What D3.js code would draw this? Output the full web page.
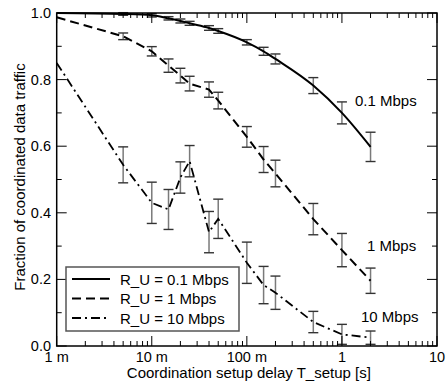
<!DOCTYPE html>
<html><head><meta charset="utf-8">
<script src="https://cdn.jsdelivr.net/npm/d3@7"></script>
<style>html,body{margin:0;padding:0;background:#fff;}svg{display:block;font-family:"Liberation Sans",Arial,Helvetica,sans-serif;}</style>
</head><body>
<svg id="c" width="446" height="383"></svg>
<script>
// Data
const tSetup = [0.001, 0.005, 0.01, 0.015, 0.02, 0.025, 0.04, 0.05, 0.1, 0.15, 0.2, 0.5, 1, 2];
const frac01 = [1.0, 0.997, 0.993, 0.984, 0.976, 0.969, 0.955, 0.946, 0.912, 0.885, 0.862, 0.782, 0.700, 0.598];
const err01  = [0, 0.004, 0.005, 0.005, 0.006, 0.006, 0.007, 0.007, 0.008, 0.012, 0.015, 0.024, 0.033, 0.044];
const frac1  = [0.987, 0.930, 0.885, 0.842, 0.812, 0.788, 0.770, 0.737, 0.628, 0.560, 0.518, 0.381, 0.288, 0.196];
const err1   = [0, 0.010, 0.014, 0.020, 0.022, 0.022, 0.023, 0.025, 0.031, 0.039, 0.040, 0.047, 0.050, 0.038];
const frac10 = [0.85, 0.544, 0.430, 0.410, 0.506, 0.555, 0.342, 0.382, 0.250, 0.183, 0.160, 0.072, 0.035, 0.025];
const err10  = [0, 0.054, 0.062, 0.060, 0.047, 0.047, 0.062, 0.059, 0.062, 0.056, 0.050, 0.032, 0.030, 0.020];
const seriesNames = ["R_U = 0.1 Mbps", "R_U = 1 Mbps", "R_U = 10 Mbps"];
const annotations = ["0.1 Mbps", "1 Mbps", "10 Mbps"];
const xTickValues = [0.001, 0.01, 0.1, 1, 10];
const xTickLabels = ["1 m", "10 m", "100 m", "1", "10"];
const yTickValues = [0, 0.2, 0.4, 0.6, 0.8, 1.0];

const svg = d3.select("#c");
const L = 56.7, R = 437, T = 13, B = 346;
const x = d3.scaleLog().domain([0.001, 10]).range([L, R]);
const y = d3.scaleLinear().domain([0, 1]).range([B, T]);

const series = [
  {v: frac01, e: err01, dash: null, w: 2, curve: d3.curveMonotoneX},
  {v: frac1, e: err1, dash: "9,5", w: 2, curve: d3.curveLinear},
  {v: frac10, e: err10, dash: "9,4,2,4", w: 1.8, curve: d3.curveLinear}
];

// error bars
series.forEach(s => {
  const g = svg.append("g");
  tSetup.forEach((t, i) => {
    if (!s.e[i]) return;
    const cx = x(t), y1 = y(Math.max(0, s.v[i] - s.e[i])), y2 = y(s.v[i] + s.e[i]);
    g.append("line").attr("x1", cx).attr("x2", cx).attr("y1", y1).attr("y2", y2)
      .attr("stroke", "#7a7a7a").attr("stroke-width", 1.5);
    [y1, y2].forEach(yy => {
      if (yy >= B) return;
      g.append("line").attr("x1", cx - 5).attr("x2", cx + 5).attr("y1", yy).attr("y2", yy)
        .attr("stroke", "#333").attr("stroke-width", 1.4);
    });
  });
});

// lines
series.forEach(s => {
  const line = d3.line().x((d, i) => x(tSetup[i])).y(d => y(d)).curve(s.curve);
  svg.append("path").datum(s.v).attr("d", line).attr("fill", "none")
    .attr("stroke", "#000").attr("stroke-width", s.w)
    .attr("stroke-dasharray", s.dash);
});

// frame
svg.append("rect").attr("x", L).attr("y", T).attr("width", R - L).attr("height", B - T)
  .attr("fill", "none").attr("stroke", "#000").attr("stroke-width", 1.5);

// ticks (inward)
const tickG = svg.append("g").attr("stroke", "#000").attr("stroke-width", 1);
const minorX = [];
for (let d = 0.001; d < 10; d *= 10) for (let k = 2; k <= 9; k++) minorX.push(d * k);
xTickValues.forEach(v => {
  tickG.append("line").attr("x1", x(v)).attr("x2", x(v)).attr("y1", B).attr("y2", B - 10);
  tickG.append("line").attr("x1", x(v)).attr("x2", x(v)).attr("y1", T).attr("y2", T + 10);
});
minorX.forEach(v => {
  tickG.append("line").attr("x1", x(v)).attr("x2", x(v)).attr("y1", B).attr("y2", B - 5);
  tickG.append("line").attr("x1", x(v)).attr("x2", x(v)).attr("y1", T).attr("y2", T + 5);
});
const yMinor = d3.range(0.1, 1.0, 0.2);
yTickValues.forEach(v => {
  tickG.append("line").attr("x1", L).attr("x2", L + 10).attr("y1", y(v)).attr("y2", y(v));
  tickG.append("line").attr("x1", R).attr("x2", R - 10).attr("y1", y(v)).attr("y2", y(v));
});
yMinor.forEach(v => {
  tickG.append("line").attr("x1", L).attr("x2", L + 5).attr("y1", y(v)).attr("y2", y(v));
  tickG.append("line").attr("x1", R).attr("x2", R - 5).attr("y1", y(v)).attr("y2", y(v));
});

// tick labels
xTickValues.forEach((v, i) => {
  svg.append("text").attr("x", x(v)).attr("y", 362).attr("text-anchor", "middle")
    .attr("font-size", 14.5).text(xTickLabels[i]);
});
yTickValues.forEach(v => {
  svg.append("text").attr("x", 51).attr("y", y(v) + 5).attr("text-anchor", "end")
    .attr("font-size", 14.5).text(d3.format(".1f")(v));
});

// axis titles
svg.append("text").attr("x", (L + R) / 2 + 2).attr("y", 378).attr("text-anchor", "middle")
  .attr("font-size", 15).text("Coordination setup delay T_setup [s]");
svg.append("text").attr("transform", "translate(25,177) rotate(-90)").attr("text-anchor", "middle")
  .attr("font-size", 15).text("Fraction of coordinated data traffic");

// annotations
const annPos = [[355, 106], [367, 250.5], [361, 321.5]];
annotations.forEach((a, i) => {
  svg.append("text").attr("x", annPos[i][0]).attr("y", annPos[i][1]).attr("font-size", 15).text(a);
});

// legend
const lg = svg.append("g");
lg.append("rect").attr("x", 66).attr("y", 267).attr("width", 173).attr("height", 64)
  .attr("fill", "#fff").attr("stroke", "#555").attr("stroke-width", 1.5);
const rowsY = [279, 298.5, 318];
series.forEach((s, i) => {
  lg.append("line").attr("x1", 72).attr("x2", 110).attr("y1", rowsY[i]).attr("y2", rowsY[i])
    .attr("stroke", "#000").attr("stroke-width", s.w).attr("stroke-dasharray", s.dash);
  lg.append("text").attr("x", 120).attr("y", rowsY[i] + 5.5).attr("font-size", 15).text(seriesNames[i]);
});
</script>
</body></html>
